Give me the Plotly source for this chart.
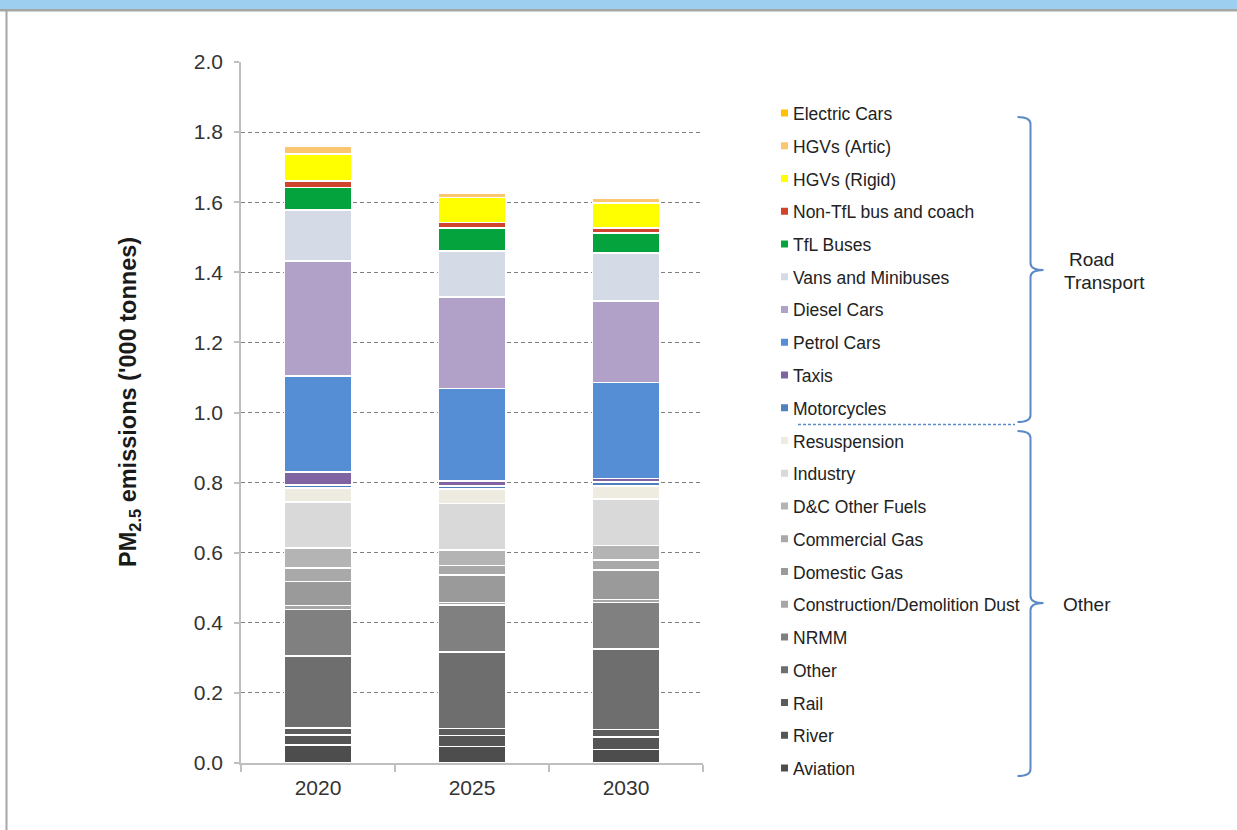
import plotly.graph_objects as go

W, H = 1237, 830

years = ["2020", "2025", "2030"]

# PM2.5 emissions by source ('000 tonnes), one list per source
aviation = [0.052, 0.047, 0.039]
river = [0.028, 0.032, 0.036]
rail = [0.020, 0.020, 0.021]
other = [0.206, 0.218, 0.229]
nrmm = [0.132, 0.133, 0.133]
cd_dust = [0.011, 0.008, 0.008]
domestic_gas = [0.069, 0.078, 0.084]
commercial_gas = [0.038, 0.028, 0.029]
dc_other_fuels = [0.057, 0.044, 0.041]
industry = [0.131, 0.132, 0.133]
resuspension = [0.041, 0.041, 0.038]
motorcycles = [0.009, 0.009, 0.010]
taxis = [0.036, 0.015, 0.011]
petrol_cars = [0.274, 0.264, 0.274]
diesel_cars = [0.328, 0.261, 0.232]
vans = [0.145, 0.130, 0.137]
tfl_buses = [0.065, 0.066, 0.057]
non_tfl_bus = [0.019, 0.016, 0.014]
hgv_rigid = [0.077, 0.071, 0.071]
hgv_artic = [0.023, 0.014, 0.013]
electric_cars = [0.001, 0.001, 0.001]

# stacking order, bottom to top
series = [
    ("Aviation", aviation, "#4d4d4d"),
    ("River", river, "#555555"),
    ("Rail", rail, "#5c5c5c"),
    ("Other", other, "#6e6e6e"),
    ("NRMM", nrmm, "#808080"),
    ("Construction/Demolition Dust", cd_dust, "#a6a6a6"),
    ("Domestic Gas", domestic_gas, "#9a9a9a"),
    ("Commercial Gas", commercial_gas, "#a9a9a9"),
    ("D&C Other Fuels", dc_other_fuels, "#b4b4b4"),
    ("Industry", industry, "#d9d9d9"),
    ("Resuspension", resuspension, "#eeece1"),
    ("Motorcycles", motorcycles, "#4f81bd"),
    ("Taxis", taxis, "#8064a2"),
    ("Petrol Cars", petrol_cars, "#558ed5"),
    ("Diesel Cars", diesel_cars, "#b1a0c7"),
    ("Vans and Minibuses", vans, "#d5dbe6"),
    ("TfL Buses", tfl_buses, "#05a33e"),
    ("Non-TfL bus and coach", non_tfl_bus, "#d0432d"),
    ("HGVs (Rigid)", hgv_rigid, "#ffff00"),
    ("HGVs (Artic)", hgv_artic, "#fac66e"),
    ("Electric Cars", electric_cars, "#ffc000"),
]


def px(x):
    return x / W


def py(y):
    return 1 - y / H


fig = go.Figure()
for name, vals, col in series:
    fig.add_trace(go.Bar(
        x=years, y=vals, name=name, showlegend=False,
        marker=dict(color=col, line=dict(color="white", width=1.6)),
    ))

FONT = "Liberation Sans, Arial, sans-serif"
AXIS_GREY = "#bfbfbf"

fig.update_layout(
    template="none",
    width=W, height=H, autosize=False,
    margin=dict(l=0, r=0, t=0, b=0, pad=0, autoexpand=False),
    paper_bgcolor="white", plot_bgcolor="white",
    barmode="stack", bargap=0.565,
    showlegend=False,
    font=dict(family=FONT, color="#333333"),
    xaxis=dict(
        domain=[px(241), px(703)], type="category", range=[-0.5, 2.5],
        automargin=False,
        showline=True, linecolor=AXIS_GREY, linewidth=1.5,
        ticks="outside", tickson="boundaries", ticklen=7, tickcolor=AXIS_GREY,
        tickwidth=1.5, showgrid=False,
        tickfont=dict(size=21, family=FONT, color="#333333"),
        ticklabelstandoff=5,
    ),
    yaxis=dict(
        domain=[py(763), py(62)], range=[0, 2], dtick=0.2, tickformat=".1f",
        automargin=False,
        showline=True, linecolor=AXIS_GREY, linewidth=1.5,
        ticks="outside", ticklen=5, tickcolor=AXIS_GREY, tickwidth=1.5,
        showgrid=True, gridcolor="#808080", gridwidth=1, griddash="4px,3px",
        zeroline=False,
        tickfont=dict(size=21, family=FONT, color="#333333"),
        ticklabelstandoff=7,
    ),
)

shapes = []
annotations = []

# header band and page frame
shapes.append(dict(type="rect", xref="paper", yref="paper",
                   x0=0, x1=1, y0=py(9), y1=1,
                   fillcolor="#9dd0f0", line=dict(width=0), layer="above"))
shapes.append(dict(type="rect", xref="paper", yref="paper",
                   x0=0, x1=1, y0=py(11.5), y1=py(9),
                   fillcolor="#a6a6a6", line=dict(width=0), layer="above"))
shapes.append(dict(type="line", xref="paper", yref="paper",
                   x0=px(6.5), x1=px(6.5), y0=0, y1=py(11),
                   line=dict(color="#a6a6a6", width=2)))

# y-axis title
annotations.append(dict(
    xref="paper", yref="paper", x=px(129), y=py(402),
    text="PM<sub>2.5</sub> emissions ('000 tonnes)", textangle=-90,
    showarrow=False, xanchor="center", yanchor="middle",
    font=dict(size=23.5, family=FONT, color="#1a1a1a", weight="bold"),
))

# legend: listed top to bottom, reverse of stacking order
legend_items = list(reversed(series))
top_y, step = 113, 32.75
for i, (name, _, col) in enumerate(legend_items):
    yc = top_y + i * step
    shapes.append(dict(type="rect", xref="paper", yref="paper",
                       x0=px(781), x1=px(788), y0=py(yc + 3.5), y1=py(yc - 3.5),
                       fillcolor=col, line=dict(width=0)))
    annotations.append(dict(
        xref="paper", yref="paper", x=px(791), y=py(yc + 1),
        text=name, showarrow=False, xanchor="left", yanchor="middle",
        font=dict(size=17.5, family=FONT, color="#222222"),
    ))

BRACE = "#5b8ac6"


def brace_path(x, top, mid, bottom, hook=13, tip=13, r=7):
    pts = [
        f"M{px(x - hook)},{py(top)}",
        f"Q{px(x)},{py(top)} {px(x)},{py(top + r)}",
        f"L{px(x)},{py(mid - r)}",
        f"Q{px(x)},{py(mid)} {px(x + tip)},{py(mid)}",
        f"Q{px(x)},{py(mid)} {px(x)},{py(mid + r)}",
        f"L{px(x)},{py(bottom - r)}",
        f"Q{px(x)},{py(bottom)} {px(x - hook)},{py(bottom)}",
    ]
    return " ".join(pts)


shapes.append(dict(type="path", xref="paper", yref="paper",
                   path=brace_path(1030.5, 117, 270, 422),
                   line=dict(color=BRACE, width=2)))
shapes.append(dict(type="path", xref="paper", yref="paper",
                   path=brace_path(1030.5, 431, 603, 776),
                   line=dict(color=BRACE, width=2)))
# dashed separator between the two groups
shapes.append(dict(type="line", xref="paper", yref="paper",
                   x0=px(798), x1=px(1015), y0=py(424.5), y1=py(424.5),
                   line=dict(color=BRACE, width=1.5, dash="3px,2px")))

annotations.append(dict(xref="paper", yref="paper", x=px(1067), y=py(259),
                        text="Road", showarrow=False, xanchor="left", yanchor="middle",
                        font=dict(size=19, family=FONT, color="#222222")))
annotations.append(dict(xref="paper", yref="paper", x=px(1062), y=py(282),
                        text="Transport", showarrow=False, xanchor="left", yanchor="middle",
                        font=dict(size=19, family=FONT, color="#222222")))
annotations.append(dict(xref="paper", yref="paper", x=px(1061), y=py(604),
                        text="Other", showarrow=False, xanchor="left", yanchor="middle",
                        font=dict(size=19, family=FONT, color="#222222")))

fig.update_layout(shapes=shapes, annotations=annotations)

fig.write_html("out.html")
